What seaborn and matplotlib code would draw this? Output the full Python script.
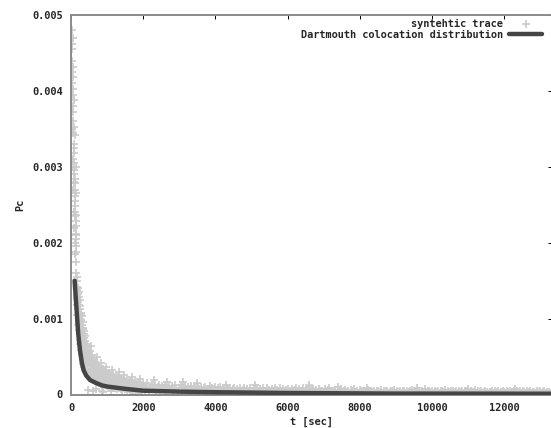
import numpy as np
import pandas as pd
import matplotlib
matplotlib.use("Agg")
import matplotlib.pyplot as plt
import seaborn as sns

# ---- synthetic trace: early samples (t in sec, Pc in units of 1e-5) ----
t_head = [18, 22, 26, 30, 34, 38, 42, 46, 50, 54, 58, 62, 66, 70, 74, 78,
          82, 86, 90, 94, 98, 102, 106, 110, 114, 118, 122, 126, 130, 134,
          138, 142, 146, 150, 30, 40, 50, 60, 70, 80, 90, 100, 110, 120,
          130, 140, 150, 45, 65, 85, 105, 125, 145, 480, 620, 700, 900]
pc_head = [480, 462, 440, 455, 425, 410, 432, 395, 380, 402, 360, 372, 345,
           330, 352, 318, 305, 325, 290, 296, 278, 270, 262, 284, 248, 240,
           255, 228, 236, 212, 205, 196, 222, 188, 350, 300, 270, 310, 240,
           280, 220, 200, 235, 185, 210, 175, 160, 470, 418, 388, 342, 300,
           265, 6, 4, 7, 3]

# isolated high samples just above the main band
t_spike = [560, 720, 840, 980, 1150, 1320, 1480, 1700, 1900, 2300, 2650,
           3100, 3500, 4300, 5100, 6600, 7400, 8200, 9600, 11000, 12300]
pc_spike = [64, 50, 42, 36, 32, 29, 26, 23, 21, 19, 17, 16, 15, 13, 12, 12,
            10, 9, 8, 7, 7]

# t = 160 .. 390 every 10 sec, three samples per bin
pc_b_hi = [155, 142, 150, 132, 140, 128, 135, 118, 124, 112, 116, 105, 108,
           98, 104, 92, 96, 86, 88, 80, 84, 74, 77, 70]
pc_b_mid = [138, 126, 131, 118, 122, 108, 113, 100, 104, 90, 95, 84, 88, 76,
            80, 70, 73, 62, 66, 58, 60, 52, 55, 49]
pc_b_lo = [118, 128, 105, 112, 92, 100, 85, 95, 72, 82, 66, 76, 58, 68, 52,
           62, 45, 55, 40, 50, 36, 46, 32, 42]

# t = 400 .. every 25 sec, three samples per bin
pc_c_hi = [70, 64, 67, 58, 54, 57, 49, 52, 44, 47, 41, 43, 38, 40, 35, 33,
           36, 31, 30, 33, 28, 31, 27, 29, 26, 28, 24, 27, 23, 25, 22, 26,
           21, 23, 20, 24, 19, 22, 18, 21, 17, 20, 16, 19, 18, 15, 19, 16,
           15, 18, 16, 14, 17, 15, 13, 16, 14, 12, 15, 13, 12, 14, 11, 13]
pc_c_mid = [52, 47, 55, 44, 41, 45, 37, 40, 34, 36, 31, 33, 29, 32, 27, 25,
            28, 24, 22, 25, 21, 23, 20, 22, 19, 21, 17, 20, 16, 18, 15, 19,
            15, 17, 14, 16, 14, 15, 13, 16, 12, 14, 12, 13, 12, 11, 13, 12,
            11, 13, 11, 10, 12, 11, 10, 12, 10, 9, 11, 10, 9, 10, 8, 10]
pc_c_lo = [38, 30, 42, 27, 33, 24, 30, 22, 28, 20, 25, 18, 23, 17, 21, 15,
           19, 14, 5, 16, 13, 15, 12, 14, 11, 13, 10, 12, 4, 11, 9, 12, 8,
           11, 9, 7, 10, 8, 11, 7, 9, 6, 10, 8, 7, 9, 6, 8, 7, 5, 8, 6, 7,
           5, 8, 6, 5, 7, 6, 4, 6, 5, 7, 5]

# t = 2000 onward every 40 sec
pc_d = [14, 6, 10, 15, 5, 9, 12, 7, 13, 4, 10, 12, 6, 11, 8, 13, 5, 9, 11, 7,
        11, 5, 12, 7, 4, 9, 12, 5, 8, 11, 4, 10, 6, 11, 3, 8, 10, 5, 9, 7,
        10, 4, 8, 10, 3, 7, 11, 5, 9, 6, 10, 3, 8, 10, 4, 7, 9, 5, 9, 6,
        8, 3, 7, 9, 4, 7, 5, 9, 3, 6, 8, 4, 7, 3, 9, 5, 3, 7, 6, 8,
        5, 7, 3, 8, 5, 3, 8, 6, 2, 7, 4, 8, 3, 6, 5, 9, 3, 7, 4, 6,
        7, 3, 5, 7, 2, 6, 9, 4, 7, 3, 5, 8, 2, 6, 4, 10, 3, 5, 7, 4,
        6, 2, 7, 4, 5, 3, 7, 2, 6, 8, 3, 5, 4, 6, 2, 6, 4, 7, 3, 5,
        6, 3, 5, 2, 6, 4, 7, 3, 5, 2, 6, 4, 5, 3, 5, 2, 6, 4, 5, 3,
        4, 2, 4, 5, 3, 6, 2, 5, 4, 5, 2, 3, 5, 4, 6, 2, 4, 3, 5, 2,
        4, 5, 2, 5, 3, 4, 6, 2, 4, 3, 4, 5, 2, 4, 3, 7, 2, 4, 5, 3,
        4, 2, 4, 3, 5, 2, 4, 5, 3, 6, 2, 4, 3, 4, 2, 5, 3, 4, 2, 4,
        3, 4, 2, 4, 5, 3, 2, 4, 3, 3, 6, 2, 4, 3, 4, 2, 3, 5, 3, 2,
        3, 3, 4, 2, 4, 3, 5, 2, 3, 4, 3, 2, 4, 3, 4, 2, 3, 4, 2, 4,
        3, 4, 2, 4, 3, 2, 4, 3, 5, 2, 3, 3, 2, 4, 3, 4, 2, 3, 4, 2,
        3, 3, 2, 4, 3]

# ---- Dartmouth colocation distribution ----
t_fit = [100, 150, 200, 250, 300, 350, 420, 530, 700, 860, 1000, 1500, 2000,
         3000, 4000, 6000, 9000, 13400]
pc_fit = [0.0015, 0.00115, 0.0008, 0.00058, 0.00042, 0.00032, 0.00025,
          0.00019, 0.00015, 0.00012, 0.000105, 0.000075, 0.00005, 0.000038,
          0.00003, 0.00002, 0.000012, 0.00001]

x_ticks = [0, 2000, 4000, 6000, 8000, 10000, 12000]
y_ticks = [0, 0.001, 0.002, 0.003, 0.004, 0.005]
y_tick_labels = ["0", "0.001", "0.002", "0.003", "0.004", "0.005"]

# assemble trace table (regular bins for the later part of the trace)
def bins(start, step, values):
    return np.arange(start, start + step * len(values), step)

trace = pd.DataFrame({
    "t": np.concatenate([t_head, t_spike,
                         bins(160, 10, pc_b_hi), bins(160, 10, pc_b_mid),
                         bins(160, 10, pc_b_lo),
                         bins(400, 25, pc_c_hi), bins(400, 25, pc_c_mid),
                         bins(400, 25, pc_c_lo),
                         bins(2000, 40, pc_d)]),
    "Pc": np.concatenate([pc_head, pc_spike, pc_b_hi, pc_b_mid, pc_b_lo,
                          pc_c_hi, pc_c_mid, pc_c_lo, pc_d]) * 1e-5,
})
fit = pd.DataFrame({"t": t_fit, "Pc": pc_fit})

sns.set_style("white")
plt.rcParams["font.family"] = ["DejaVu Sans Mono"]
plt.rcParams["font.weight"] = "bold"
fs = 7.4

fig = plt.figure(figsize=(5.51, 4.28), dpi=100)
ax = fig.add_axes([71 / 551, 33.5 / 428, 481 / 551, 379.5 / 428])

sns.scatterplot(data=trace, x="t", y="Pc", ax=ax, marker="+", s=34,
                color="#cbcbcb", linewidth=1.2, label="syntehtic trace",
                zorder=2)
sns.lineplot(data=fit, x="t", y="Pc", ax=ax, color="#454545", linewidth=3.2,
             label="Dartmouth colocation distribution", zorder=3)

ax.set_xlim(0, 13330)
ax.set_ylim(0, 0.005)
ax.set_xticks(x_ticks)
ax.set_xticklabels([str(v) for v in x_ticks])
ax.set_yticks(y_ticks)
ax.set_yticklabels(y_tick_labels)
ax.tick_params(direction="in", top=True, right=True, length=3, width=0.7,
               color="black", labelsize=fs, pad=6)
for lab in ax.get_xticklabels() + ax.get_yticklabels():
    lab.set_fontweight("bold")

for sp in ax.spines.values():
    sp.set_color("#8a8a8a")
    sp.set_linewidth(1.4)

ax.set_xlabel("t [sec]", fontsize=fs, fontweight="bold", va="center")
ax.set_ylabel("Pc", fontsize=fs, fontweight="bold", va="center")
ax.xaxis.set_label_coords(0.5, -0.0725)
ax.yaxis.set_label_coords(-0.106, 0.5)

leg = ax.legend(loc="upper right", bbox_to_anchor=(542 / 551, 1 - 19 / 428),
                bbox_transform=fig.transFigure, frameon=False,
                markerfirst=False, fontsize=fs, handlelength=3.2,
                handletextpad=0.6, borderpad=0, borderaxespad=0,
                labelspacing=0.05)
for txt in leg.get_texts():
    txt.set_fontweight("bold")

fig.savefig("out.png", dpi=100)
